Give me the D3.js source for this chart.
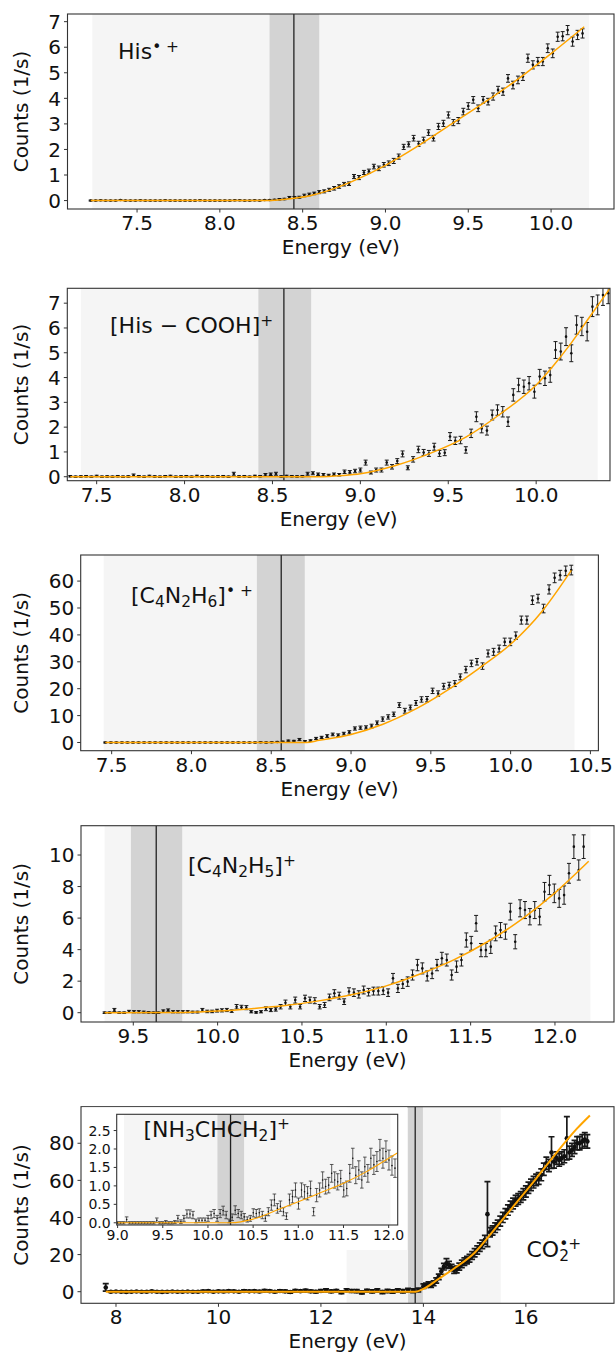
<!DOCTYPE html>
<html>
<head>
  <meta charset="utf-8">
  <script src="https://d3js.org/d3.v7.min.js"></script>
  <style>
  body { margin: 0; background: #fff; }
  svg text { font-family: "DejaVu Sans", sans-serif; fill: #111; }
  </style>
</head>
<body>
<svg id="chart" width="616" height="1355"></svg>
<script>
// ---- panel 1 : His.+ ----
var p1XTicks = [7.5, 8.0, 8.5, 9.0, 9.5, 10.0];
var p1YTicks = [0, 1, 2, 3, 4, 5, 6, 7];
var p1Range = [7.22, 10.19];
var p1Counts = [0,0,0.01,0,0,0,0.02,0,0,0,0.01,0,0,0,0,0.01,0,0,0,0,0,0,0.01,0,0,0,0,0,0,0.01,0.01,0,0,0.01,0,0.02,
  0.02,0.03,0.05,0.06,0.12,0.12,0.13,0.2,0.24,0.28,0.33,0.36,0.42,0.48,0.55,0.64,0.66,0.94,0.9,1.1,1.15,1.33,1.26,1.4,1.46,
  1.55,1.72,2.1,2.2,2.44,2.22,2.37,2.66,2.44,2.9,3.02,3.35,3.05,3.13,3.48,3.7,3.94,3.61,3.94,3.87,4.07,4.33,4.26,4.78,4.52,
  4.72,4.85,5.57,5.31,5.44,5.44,5.96,5.76,6.41,6.43,6.67,6.22,6.48,6.54];
var p1Errs = [0.02,0.02,0.02,0.02,0.02,0.02,0.02,0.02,0.02,0.02,0.02,0.02,0.02,0.02,0.02,0.02,0.02,0.02,0.02,0.02,0.02,0.02,0.02,0.02,0.02,0.02,0.02,0.02,0.02,0.02,0.02,0.02,0.02,0.02,0.02,0.02,
  0.02,0.02,0.03,0.03,0.04,0.04,0.04,0.05,0.05,0.05,0.06,0.06,0.06,0.07,0.07,0.07,0.07,0.08,0.08,0.08,0.08,0.09,0.09,0.09,0.09,
  0.1,0.1,0.1,0.1,0.11,0.1,0.11,0.11,0.11,0.12,0.12,0.12,0.12,0.12,0.13,0.13,0.13,0.13,0.13,0.13,0.14,0.14,0.14,0.15,0.15,
  0.15,0.15,0.16,0.16,0.16,0.16,0.17,0.17,0.18,0.18,0.18,0.18,0.18,0.18];
var p1Fit = [[7.22,0],[8.28,0],[8.35,0.02],[8.45,0.09],[8.55,0.2],[8.65,0.38],[8.8,0.75],[9.0,1.38],[9.2,2.15],[9.4,3.0],[9.6,3.85],[9.8,4.75],[10.0,5.75],[10.2,6.8]];
var p1Label = [{t: "His"}, {t: "\u2022 +", sup: true}];

// ---- panel 2 : [His-COOH]+ ----
var p2XTicks = [7.5, 8.0, 8.5, 9.0, 9.5, 10.0];
var p2YTicks = [0, 1, 2, 3, 4, 5, 6, 7];
var p2Range = [7.35, 10.41];
var p2Counts = [0.02,0,0.01,0.02,0,0.03,0,0.01,0,0.02,0,0.01,0.06,0.02,0,0.03,0.01,0,0.02,0.03,0,0.01,0.02,0,0.03,0.01,0.02,0,0.01,0.02,0,0.12,0.01,0.02,0,0.03,0.02,
  0.08,0.1,0.12,0.01,0.03,0.02,0.01,0.02,0.12,0.14,0.1,0.08,0.06,0.1,0.08,0.2,0.18,
  0.23,0.27,0.57,0.17,0.27,0.27,0.57,0.4,0.63,0.92,0.36,0.7,1.1,0.98,0.94,1.21,0.94,0.97,1.62,1.45,1.48,1.08,1.75,2.42,1.95,
  1.86,2.49,2.69,2.62,2.22,3.3,3.7,3.63,3.77,3.43,4.04,3.97,4.1,5.11,5.05,5.65,4.98,6.12,6.06,5.85,6.86,6.93,7.33,7.4];
var p2Errs = [0.03,0.03,0.03,0.03,0.03,0.03,0.03,0.03,0.03,0.03,0.03,0.03,0.05,0.03,0.03,0.03,0.03,0.03,0.03,0.03,0.03,0.03,0.03,0.03,0.03,0.03,0.03,0.03,0.03,0.03,0.03,0.06,0.03,0.03,0.03,0.03,0.03,
  0.05,0.05,0.06,0.03,0.03,0.03,0.03,0.03,0.06,0.06,0.05,0.05,0.04,0.05,0.05,0.07,0.07,
  0.07,0.08,0.1,0.06,0.08,0.08,0.1,0.09,0.1,0.12,0.08,0.11,0.13,0.12,0.12,0.14,0.12,0.12,0.16,0.15,0.15,0.13,0.17,0.2,0.18,
  0.18,0.2,0.21,0.21,0.19,0.25,0.27,0.27,0.27,0.26,0.29,0.29,0.29,0.34,0.34,0.36,0.34,0.37,0.37,0.37,0.4,0.4,0.42,0.42];
var p2Fit = [[7.35,0],[8.75,0],[8.9,0.05],[9.0,0.12],[9.2,0.45],[9.4,0.95],[9.6,1.6],[9.8,2.55],[10.0,3.7],[10.1,4.5],[10.2,5.4],[10.3,6.4],[10.42,7.6]];
var p2Label = [{t: "[His \u2212 COOH]"}, {t: "+", sup: true}];

// ---- panel 3 : [C4N2H6].+ ----
var p3XTicks = [7.5, 8.0, 8.5, 9.0, 9.5, 10.0, 10.5];
var p3YTicks = [0, 10, 20, 30, 40, 50, 60];
var p3Range = [7.46, 10.38];
var p3Counts = [0,0,0,0,0,0,0,0,0,0,0,0,0,0,0,0,0,0,0,0,0,0,0,0,0,0,0,0,0.1,0,0.1,0.2,0.3,
  0.6,0.5,1.1,0.4,0.7,1.5,1.9,2.4,3.0,2.7,3.3,3.8,5.2,5.5,5.6,6.1,7.3,8.7,9.5,10.5,13.9,11.8,13.0,14.7,16.0,16.1,
  19.2,18.2,20.9,21.3,21.9,24.4,27.1,29.4,30.0,28.4,33.1,33.7,34.9,37.4,37.4,39.7,45.5,45.5,52.9,53.5,49.8,56.9,
  61.2,62.2,63.8,64.1];
var p3Errs = [0.2,0.2,0.2,0.2,0.2,0.2,0.2,0.2,0.2,0.2,0.2,0.2,0.2,0.2,0.2,0.2,0.2,0.2,0.2,0.2,0.2,0.2,0.2,0.2,0.2,0.2,0.2,0.2,0.2,0.2,0.2,0.2,0.2,
  0.3,0.3,0.4,0.3,0.3,0.4,0.4,0.5,0.5,0.5,0.5,0.6,0.6,0.6,0.6,0.7,0.7,0.8,0.8,0.8,0.9,0.9,0.9,0.9,1.0,1.0,
  1.0,1.0,1.1,1.1,1.1,1.1,1.2,1.2,1.2,1.2,1.3,1.3,1.3,1.4,1.4,1.4,1.5,1.5,1.6,1.6,1.6,1.7,
  1.8,1.8,1.8,1.8];
var p3Fit = [[7.46,0],[8.72,0],[8.8,0.8],[9.0,3.0],[9.2,6.8],[9.4,12.3],[9.6,19.3],[9.8,27.5],[10.0,36.5],[10.2,49],[10.38,64]];
var p3Label = [{t: "[C"}, {t: "4", sub: true}, {t: "N"}, {t: "2", sub: true}, {t: "H"}, {t: "6", sub: true}, {t: "]"}, {t: "\u2022 +", sup: true}];

// ---- panel 4 : [C4N2H5]+ ----
var p4XTicks = [9.5, 10.0, 10.5, 11.0, 11.5, 12.0];
var p4YTicks = [0, 2, 4, 6, 8, 10];
var p4Range = [9.33, 12.17];
var p4Counts = [0,0,0.17,0,0,0.08,0.06,0.06,0.04,0.02,
  0,0,0.1,0.15,0.06,0.06,0.06,0.06,0.04,0.04,
  0.17,0.08,0.08,0.13,0.15,0.17,0.1,0.38,0.34,0.32,
  0.06,0.02,0.06,0.25,0.17,0.21,0.38,0.63,0.38,0.8,
  0.38,0.91,0.8,0.76,0.38,0.49,0.97,1.23,1.08,0.7,
  1.34,1.27,1.16,1.44,1.3,1.37,1.37,1.4,1.27,2.18,
  1.54,1.82,1.97,2.39,3.02,2.81,2.33,2.49,3.02,3.45,
  3.34,2.39,2.92,3.34,4.61,4.4,5.67,3.97,3.97,4.19,
  5.03,5.24,5.14,6.41,4.5,6.62,6.51,6.09,6.51,6.09,
  7.67,8.1,7.57,7.25,7.46,8.84,10.53,9.05,10.53];
var p4Errs = [0.05,0.05,0.1,0.05,0.05,0.07,0.07,0.07,0.06,0.05,
  0.05,0.05,0.08,0.09,0.07,0.07,0.07,0.07,0.06,0.06,
  0.1,0.08,0.08,0.09,0.1,0.1,0.08,0.14,0.13,0.13,
  0.07,0.05,0.07,0.12,0.1,0.11,0.14,0.17,0.14,0.19,
  0.14,0.2,0.19,0.19,0.14,0.16,0.21,0.23,0.22,0.18,
  0.24,0.24,0.23,0.25,0.24,0.25,0.25,0.25,0.24,0.31,
  0.26,0.28,0.3,0.32,0.36,0.35,0.32,0.33,0.36,0.38,
  0.38,0.32,0.36,0.38,0.45,0.44,0.5,0.42,0.42,0.43,
  0.47,0.48,0.48,0.53,0.45,0.54,0.54,0.52,0.54,0.52,
  0.59,0.61,0.59,0.57,0.58,0.63,0.75,0.64,0.75];
var p4Fit = [[9.33,0],[9.8,0.02],[10.0,0.1],[10.2,0.25],[10.4,0.45],[10.6,0.75],[10.8,1.15],[11.0,1.7],[11.2,2.45],[11.4,3.35],[11.6,4.5],[11.8,5.9],[12.0,7.6],[12.2,9.6]];
var p4Label = [{t: "[C"}, {t: "4", sub: true}, {t: "N"}, {t: "2", sub: true}, {t: "H"}, {t: "5", sub: true}, {t: "]"}, {t: "+", sup: true}];

// ---- panel 5 : CO2.+ with [NH3CHCH2]+ inset ----
var p5XTicks = [8, 10, 12, 14, 16];
var p5YTicks = [0, 20, 40, 60, 80];
var p5FlatRange = [7.8, 13.9];
var p5FlatCounts = [2.3,0,0.1,0,-0.1,0,0.1,0,0,0.2,0,-0.1,0,0.1,0,0,0.1,0,0,0.2,0.3,0,0.2,0.1,0.3,0.2,0,0.4,0.2,0.3,
  0.1,0.5,0.3,0,0.4,0.2,-0.2,0.5,0.3,0.6,0.2,0,0.4,0.7,0.2,0.5,-0.3,0.8,0.4,0.3,-0.4,0.5,0.2,0.6,-0.2,0.4,0.1,0.6,0.3,0.8,0.5,0.9];
var p5FlatErrs = [2.0,0.4,0.4,0.4,0.4,0.4,0.4,0.4,0.4,0.4,0.4,0.4,0.4,0.4,0.4,0.4,0.4,0.4,0.4,0.5,0.5,0.4,0.5,0.5,0.5,0.5,0.4,0.6,0.5,0.5,
  0.5,0.6,0.6,0.5,0.6,0.6,0.6,0.7,0.6,0.7,0.6,0.6,0.7,0.8,0.7,0.7,0.7,0.8,0.8,0.8,0.8,0.8,0.8,0.9,0.8,0.9,0.9,0.9,0.9,1.0,1.0,1.0];
var p5RiseRange = [14.0, 17.2];
var p5RiseCounts = [3,3.5,4,3.5,4.5,6,8,11,13.5,15.3,14.4,13,11.7,12,13.5,15,16.2,17,18,19.5,
  21,22.5,24,25.5,28,41.8,32,33,34.5,36,38,40,42,44,46,47.5,49,50,51,52.5,
  54,56,57.6,59,60.3,61,63,66,69.2,68,75,70,72,71,72,73,82.7,75,76.4,78,80,80,81,82,81];
var p5RiseErrs = [1.2,1.2,1.3,1.2,1.3,1.4,1.5,1.6,1.8,2.5,1.9,1.8,1.8,1.8,1.9,2.0,2.0,2.0,2.1,2.1,
  2.2,2.2,2.3,2.3,2.4,17.5,2.5,2.5,2.6,2.6,2.7,2.7,2.8,2.8,2.8,2.9,2.9,2.9,2.9,3.0,
  3.0,3.0,3.1,3.1,3.1,3.2,3.2,3.3,3.3,3.3,8.5,3.4,3.4,3.4,3.4,3.5,11.7,3.5,3.5,3.6,3.6,3.6,3.6,3.7,3.6];
var p5Fit = [[7.8,0],[13.85,0],[14.0,1.5],[14.3,7],[14.6,12.5],[15.0,21],[15.4,34],[15.8,47.5],[16.2,61],[16.6,75],[17.0,88],[17.25,95]];
var p5Label = [{t: "CO"}, {t: "2", sub: true}, {t: "\u2022+", sup: true, stack: true}];

var insetXTicks = [9.0, 9.5, 10.0, 10.5, 11.0, 11.5, 12.0];
var insetYTicks = [0.0, 0.5, 1.0, 1.5, 2.0, 2.5];
var insetRange = [9.0, 12.07];
var insetCounts = [0,0,0,0.09,0,0,0,0,0,0,0,0,0,0.07,0,0,0.02,0,0,0.02,
  0.12,0.03,0.12,0.24,0.24,0.21,0.05,0.07,0.07,0.07,0.12,0.21,0.25,0.12,0.25,0.33,0.21,0.05,0.15,0.34,
  0.25,0.21,0.16,0.09,0.12,0.27,0.25,0.27,0.21,0.12,0.3,0.48,0.62,0.39,0.45,0.3,0.18,0.62,0.71,0.89,
  0.52,0.89,0.84,0.8,0.93,0.3,0.75,0.89,1.16,0.98,1.02,1.34,1.16,1.11,1.2,0.89,0.93,1.34,1.75,1.29,
  1.43,1.16,1.52,1.34,1.75,1.57,1.66,1.97,1.75,1.93,1.7,1.55,1.48];
var insetErrs = [0.03,0.03,0.03,0.07,0.03,0.03,0.03,0.03,0.03,0.03,0.03,0.03,0.03,0.06,0.03,0.03,0.04,0.03,0.03,0.04,
  0.08,0.05,0.08,0.11,0.11,0.1,0.05,0.06,0.06,0.06,0.08,0.1,0.11,0.08,0.11,0.12,0.1,0.05,0.09,0.12,
  0.11,0.1,0.09,0.07,0.08,0.11,0.11,0.11,0.1,0.08,0.11,0.14,0.16,0.13,0.14,0.11,0.09,0.16,0.17,0.19,
  0.15,0.19,0.19,0.18,0.2,0.11,0.18,0.19,0.22,0.2,0.21,0.24,0.22,0.22,0.22,0.19,0.2,0.24,0.27,0.23,
  0.25,0.22,0.26,0.24,0.27,0.26,0.27,0.29,0.27,0.29,0.27,0.26,0.25];
var insetFit = [[9.0,0],[10.25,0],[10.5,0.1],[10.75,0.33],[11.0,0.57],[11.25,0.82],[11.5,1.07],[11.75,1.38],[12.0,1.75],[12.1,1.9]];
var insetLabel = [{t: "[NH"}, {t: "3", sub: true}, {t: "CHCH"}, {t: "2", sub: true}, {t: "]"}, {t: "+", sup: true}];

// ---- layout ----
var FONT = 20, LABEL_FONT = 22;
var svg = d3.select("#chart");

// energy axis sampling of a scan: n evenly spaced photon energies
function scan(range, n) {
  return d3.range(n).map(function(i) { return range[0] + (range[1] - range[0]) * i / (n - 1); });
}

function zip(energies, counts, errs) {
  return energies.map(function(e, i) { return {e: e, v: counts[i], s: errs[i]}; });
}

function drawLabel(g, parts, x, y, size) {
  var t = g.append("text").attr("x", x).attr("y", y).style("font-size", size + "px");
  var shift = 0, lastSub = null;
  parts.forEach(function(p) {
    var s = t.append("tspan").text(p.t);
    var target = p.sub ? 0.2 * size : (p.sup ? -0.34 * size : 0);
    if (p.sub || p.sup) s.style("font-size", (0.7 * size) + "px");
    if (target - shift !== 0) s.attr("dy", target - shift);
    shift = target;
    if (p.stack && lastSub) s.attr("dx", -lastSub.node().getComputedTextLength());
    if (p.sub) lastSub = s;
  });
}

var clipId = 0;
// one axes: spans, onset line, error bars, fit, frame, ticks
function drawAxes(cfg) {
  var x = d3.scaleLinear().domain(cfg.xDomain).range([cfg.left, cfg.right]);
  var y = d3.scaleLinear().domain(cfg.yDomain).range([cfg.bottom, cfg.top]);
  var g = svg.append("g");
  var id = "clip" + (clipId++);
  g.append("clipPath").attr("id", id).append("rect")
    .attr("x", cfg.left).attr("y", cfg.top)
    .attr("width", cfg.right - cfg.left).attr("height", cfg.bottom - cfg.top);
  var plot = g.append("g").attr("clip-path", "url(#" + id + ")");

  plot.append("rect").attr("x", x(cfg.wide[0])).attr("width", x(cfg.wide[1]) - x(cfg.wide[0]))
    .attr("y", cfg.top).attr("height", cfg.bottom - cfg.top).attr("fill", "#f5f5f5");
  plot.append("rect").attr("x", x(cfg.band[0])).attr("width", x(cfg.band[1]) - x(cfg.band[0]))
    .attr("y", cfg.top).attr("height", cfg.bottom - cfg.top).attr("fill", "#d3d3d3");
  plot.append("line").attr("x1", x(cfg.onset)).attr("x2", x(cfg.onset))
    .attr("y1", cfg.top).attr("y2", cfg.bottom).attr("stroke", "#222").attr("stroke-width", 1.3);

  var cap = cfg.cap || 2;
  cfg.series.forEach(function(pts) {
    plot.append("g").selectAll("path").data(pts).join("path")
      .attr("d", function(d) {
        var xx = x(d.e), y1 = y(d.v + d.s), y2 = y(d.v - d.s);
        return "M" + (xx - cap) + "," + y1 + "H" + (xx + cap) + "M" + xx + "," + y1 + "V" + y2 +
               "M" + (xx - cap) + "," + y2 + "H" + (xx + cap);
      })
      .attr("fill", "none").attr("stroke", cfg.barColor || "#1a1a1a").attr("stroke-width", cfg.barWidth || 1);
    plot.append("g").selectAll("circle").data(pts).join("circle")
      .attr("cx", function(d) { return x(d.e); }).attr("cy", function(d) { return y(d.v); })
      .attr("r", cfg.dot || 1.3).attr("fill", "#111");
  });

  var line = d3.line().x(function(d) { return x(d[0]); }).y(function(d) { return y(d[1]); })
    .curve(d3.curveMonotoneX);
  plot.append("path").datum(cfg.fit).attr("d", line)
    .attr("fill", "none").attr("stroke", "#ffa500").attr("stroke-width", cfg.fitWidth || 1.5);

  // frame
  g.append("rect").attr("x", cfg.left).attr("y", cfg.top)
    .attr("width", cfg.right - cfg.left).attr("height", cfg.bottom - cfg.top)
    .attr("fill", "none").attr("stroke", "#333").attr("stroke-width", 1.1);

  var fs = cfg.font || FONT, tl = cfg.tick || 3.5;
  var xf = d3.format(cfg.xFmt), yf = d3.format(cfg.yFmt);
  cfg.xTicks.forEach(function(t) {
    g.append("line").attr("x1", x(t)).attr("x2", x(t)).attr("y1", cfg.bottom).attr("y2", cfg.bottom + tl)
      .attr("stroke", "#333");
    g.append("text").attr("x", x(t)).attr("y", cfg.bottom + tl + fs * 0.88)
      .attr("text-anchor", "middle").style("font-size", fs + "px").text(xf(t));
  });
  cfg.yTicks.forEach(function(t) {
    g.append("line").attr("x1", cfg.left - tl).attr("x2", cfg.left).attr("y1", y(t)).attr("y2", y(t))
      .attr("stroke", "#333");
    g.append("text").attr("x", cfg.left - tl - 3).attr("y", y(t)).attr("dy", "0.36em")
      .attr("text-anchor", "end").style("font-size", fs + "px").text(yf(t));
  });
  if (cfg.axisLabels !== false) {
    g.append("text").attr("x", (cfg.left + cfg.right) / 2).attr("y", cfg.bottom + 45)
      .attr("text-anchor", "middle").style("font-size", FONT + "px").text("Energy (eV)");
    g.append("text").attr("transform", "translate(28," + ((cfg.top + cfg.bottom) / 2) + ") rotate(-90)")
      .attr("text-anchor", "middle").style("font-size", FONT + "px").text("Counts (1/s)");
  }
  drawLabel(g, cfg.label, cfg.labelX, cfg.labelY, LABEL_FONT);
  return {g: g, x: x, y: y};
}

drawAxes({top: 14, bottom: 209, left: 67.5, right: 614,
  xDomain: [7.08, 10.38], yDomain: [-0.33, 7.3], xTicks: p1XTicks, yTicks: p1YTicks, xFmt: ".1f", yFmt: "d",
  series: [zip(scan(p1Range, p1Counts.length), p1Counts, p1Errs)], fit: p1Fit,
  wide: [7.23, 10.23], band: [8.30, 8.60], onset: 8.447,
  label: p1Label, labelX: 118, labelY: 59});

drawAxes({top: 288.3, bottom: 480.7, left: 67.3, right: 610,
  xDomain: [7.333, 10.42], yDomain: [-0.16, 7.6], xTicks: p2XTicks, yTicks: p2YTicks, xFmt: ".1f", yFmt: "d",
  series: [zip(scan(p2Range, p2Counts.length), p2Counts, p2Errs)], fit: p2Fit,
  wide: [7.41, 10.35], band: [8.42, 8.72], onset: 8.565,
  label: p2Label, labelX: 110, labelY: 333});

drawAxes({top: 555, bottom: 750.7, left: 80.7, right: 598.4,
  xDomain: [7.306, 10.55], yDomain: [-3.05, 69.7], xTicks: p3XTicks, yTicks: p3YTicks, xFmt: ".1f", yFmt: "d",
  series: [zip(scan(p3Range, p3Counts.length), p3Counts, p3Errs)], fit: p3Fit,
  wide: [7.45, 10.40], band: [8.41, 8.71], onset: 8.5625,
  label: p3Label, labelX: 131, labelY: 603});

drawAxes({top: 825.7, bottom: 1022, left: 81, right: 614,
  xDomain: [9.19, 12.35], yDomain: [-0.59, 11.86], xTicks: p4XTicks, yTicks: p4YTicks, xFmt: ".1f", yFmt: "d",
  series: [zip(scan(p4Range, p4Counts.length), p4Counts, p4Errs)], fit: p4Fit,
  wide: [9.33, 12.21], band: [9.486, 9.79], onset: 9.636,
  label: p4Label, labelX: 188, labelY: 873});

drawAxes({top: 1106.7, bottom: 1303.3, left: 81, right: 614,
  xDomain: [7.317, 17.72], yDomain: [-6.25, 99.7], xTicks: p5XTicks, yTicks: p5YTicks, xFmt: "d", yFmt: "d",
  series: [zip(scan(p5FlatRange, p5FlatCounts.length), p5FlatCounts, p5FlatErrs),
           zip(scan(p5RiseRange, p5RiseCounts.length), p5RiseCounts, p5RiseErrs)],
  fit: p5Fit, fitWidth: 2, dot: 2.3, barWidth: 1.7, cap: 3,
  wide: [12.5, 15.51], band: [13.70, 13.99], onset: 13.84,
  label: p5Label, labelX: 526.5, labelY: 1256.7});

// white backing behind the inset and its tick labels
svg.append("rect").attr("x", 82).attr("y", 1107.3).attr("width", 325).attr("height", 142.7).attr("fill", "#fff");

drawAxes({top: 1114.3, bottom: 1225, left: 116.7, right: 397.7,
  xDomain: [8.99, 12.1], yDomain: [-0.06, 2.94], xTicks: insetXTicks, yTicks: insetYTicks, xFmt: ".1f", yFmt: ".1f",
  series: [zip(scan(insetRange, insetCounts.length), insetCounts, insetErrs)], fit: insetFit,
  font: 14, tick: 3, dot: 0.8, barWidth: 0.8, cap: 1.8, fitWidth: 1.1, barColor: "#333", axisLabels: false,
  wide: [9.07, 12.02], band: [10.105, 10.40], onset: 10.25,
  label: insetLabel, labelX: 143.4, labelY: 1136.7});
</script>
</body>
</html>
